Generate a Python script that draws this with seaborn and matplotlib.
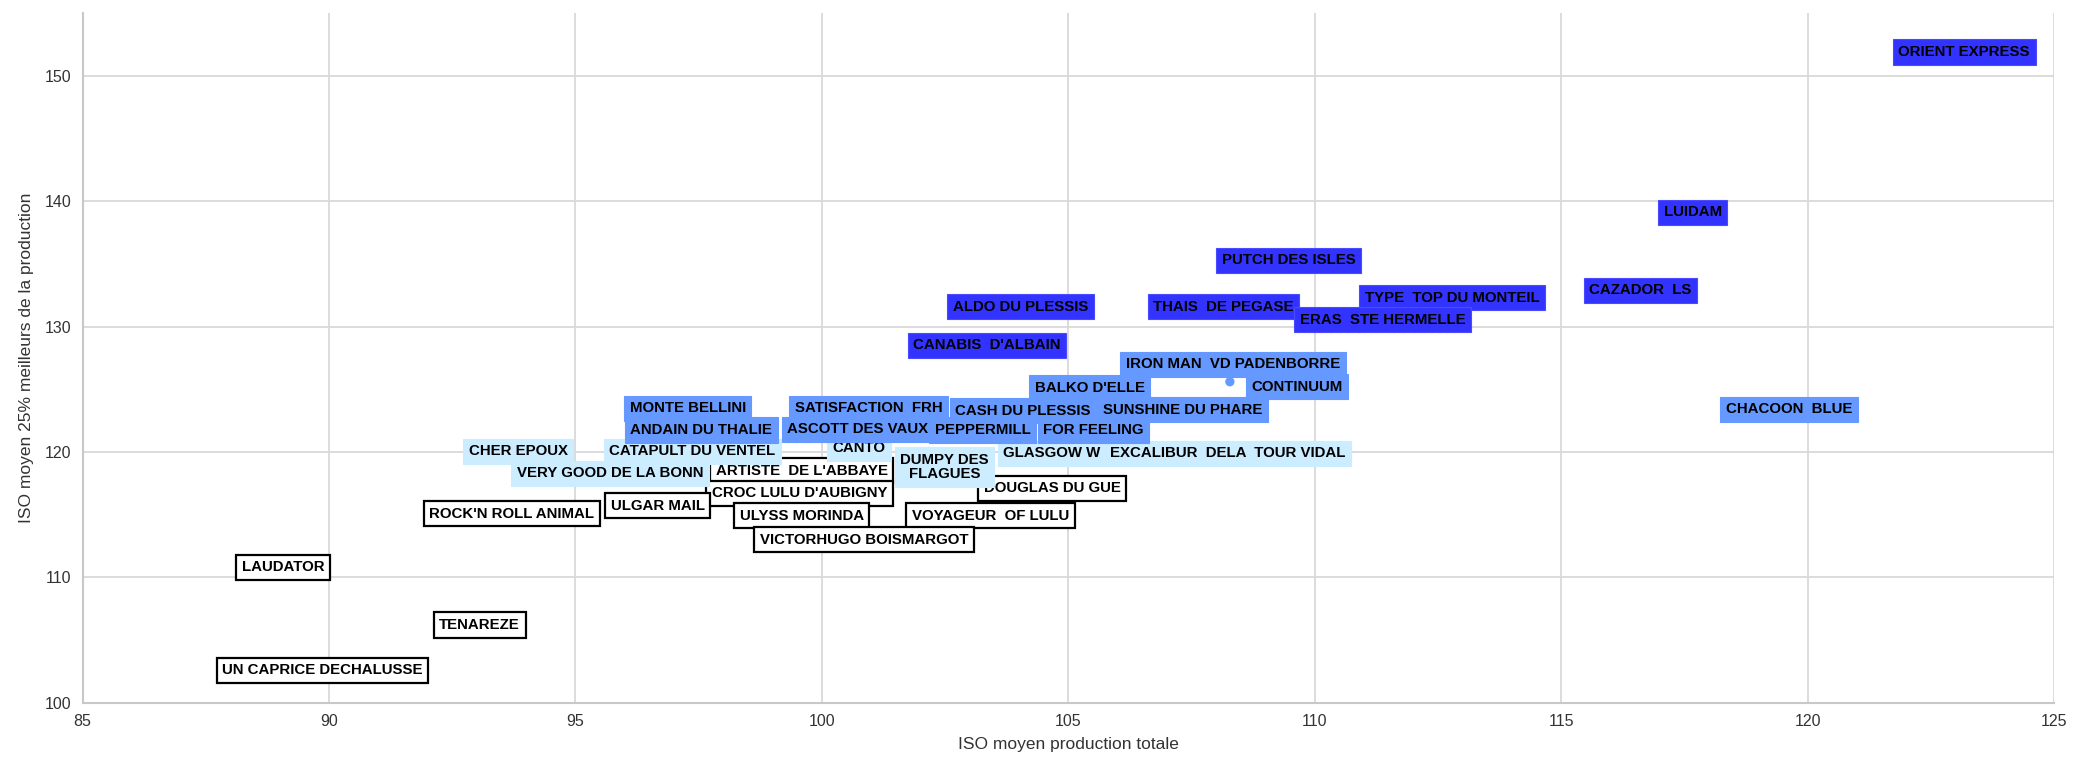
import numpy as np
import pandas as pd
import seaborn as sns
import matplotlib.pyplot as plt

# horses, ISO totale (x) vs ISO 25% best (y), group = colour class
names = ["ORIENT EXPRESS", "LUIDAM", "CAZADOR  LS", "PUTCH DES ISLES", "TYPE  TOP DU MONTEIL",
         "THAIS  DE PEGASE", "ERAS  STE HERMELLE", "ALDO DU PLESSIS", "CANABIS  D'ALBAIN",
         "IRON MAN  VD PADENBORRE", "CONTINUUM", "BALKO D'ELLE", "SUNSHINE DU PHARE",
         "CASH DU PLESSIS", "SATISFACTION  FRH", "MONTE BELLINI", "ANDAIN DU THALIE",
         "ASCOTT DES VAUX", "PEPPERMILL", "FOR FEELING", "CHACOON  BLUE",
         "CHER EPOUX", "CATAPULT DU VENTEL", "CANTO", "DUMPY DES\nFLAGUES", "GLASGOW W",
         "EXCALIBUR  DELA  TOUR VIDAL", "VERY GOOD DE LA BONN",
         "ARTISTE  DE L'ABBAYE", "CROC LULU D'AUBIGNY", "ULGAR MAIL", "ROCK'N ROLL ANIMAL",
         "ULYSS MORINDA", "VOYAGEUR  OF LULU", "VICTORHUGO BOISMARGOT", "DOUGLAS DU GUE",
         "LAUDATOR", "TENAREZE", "UN CAPRICE DECHALUSSE"]
iso_total = [123.18, 117.67, 116.61, 109.47, 112.79,
             108.15, 111.38, 104.03, 103.35,
             108.34, 108.28, 105.44, 107.32,
             104.08, 100.95, 97.28, 97.55,
             100.73, 103.26, 105.51, 119.62,
             93.84, 97.37, 100.75, 102.49, 104.67,
             108.24, 95.70,
             99.59, 99.55, 96.67, 93.71,
             99.59, 103.42, 100.86, 104.68,
             89.07, 93.06, 89.87]
iso_top25 = [151.9, 139.1, 132.9, 135.3, 132.3,
             131.6, 130.55, 131.6, 128.5,
             127.0, 125.6, 125.1, 123.35,
             123.3, 123.5, 123.5, 121.75,
             121.8, 121.75, 121.75, 123.4,
             120.05, 120.05, 120.3, 118.8, 119.9,
             119.9, 118.3,
             118.5, 116.7, 115.7, 115.07,
             114.9, 114.93, 113.0, 117.1,
             110.8, 106.2, 102.6]
groups = ["A"] * 9 + ["B"] * 12 + ["C"] * 7 + ["D"] * 11

palette = {"A": "#3333FF", "B": "#6699FF", "C": "#CCECFF", "D": "#FFFFFF"}
edges = {"A": "#4A4AFF", "B": "#6699FF", "C": "#CCECFF", "D": "#000000"}
label_shift = {"CONTINUUM": (67, -5)}  # pixels

df = pd.DataFrame({"name": names, "x": iso_total, "y": iso_top25, "g": groups})

sns.set_style("white")
plt.rcParams["font.family"] = ["Liberation Sans", "DejaVu Sans"]

fig = plt.figure(figsize=(20.73, 7.62), dpi=100)
ax = fig.add_axes([0.0398, 0.0778, 0.951, 0.905])

sns.scatterplot(data=df, x="x", y="y", hue="g", palette=palette, s=45,
                edgecolor="none", legend=False, ax=ax, zorder=2)

for g in ["D", "C", "B", "A"]:
    sub = df[df.g == g]
    for _, r in sub.iterrows():
        dx, dy = label_shift.get(r["name"], (0, 0))
        ax.annotate(r["name"], (r["x"], r["y"]), xytext=(dx, dy), textcoords="offset pixels",
                    ha="center", va="center", fontsize=10.8, fontweight="bold", color="black",
                    linespacing=1.0, zorder=4,
                    bbox=dict(boxstyle="square,pad=0.37", fc=palette[g], ec=edges[g],
                              lw=1.6 if g == "D" else 0.8))

ax.set_xlim(85, 125)
ax.set_ylim(100, 155)
ax.set_xticks(np.arange(85, 126, 5))
ax.set_yticks(np.arange(100, 151, 10))
ax.grid(True, color="#D9D9D9", lw=1.3)
ax.set_axisbelow(True)
for s in ["top", "right"]:
    ax.spines[s].set_visible(False)
for s in ["left", "bottom"]:
    ax.spines[s].set_color("#C8C8C8")
    ax.spines[s].set_linewidth(1.5)
ax.tick_params(axis="both", length=0, labelsize=11.5, colors="#333333", pad=8)
ax.set_xlabel("ISO moyen production totale", fontsize=12.5, color="#333333", labelpad=6)
ax.set_ylabel("ISO moyen 25% meilleurs de la production", fontsize=12.5, color="#333333", labelpad=8)

fig.savefig("out.png", dpi=100)
